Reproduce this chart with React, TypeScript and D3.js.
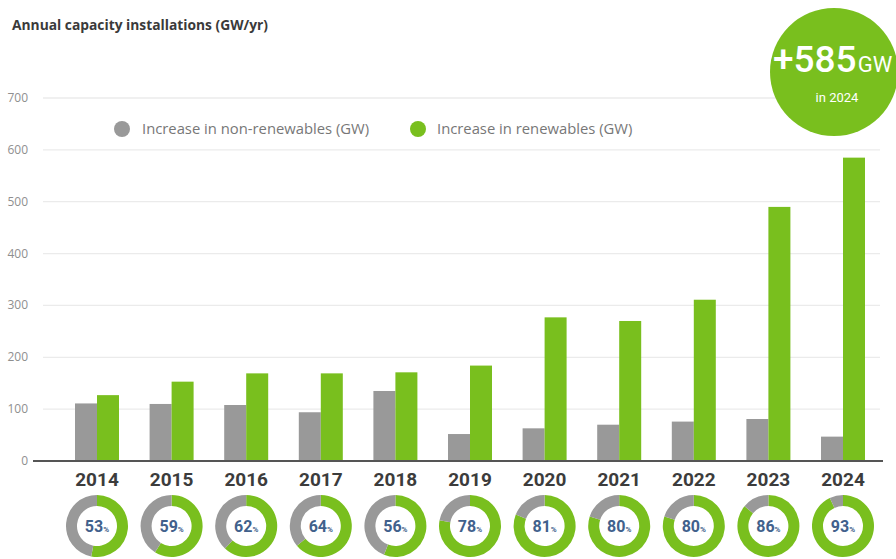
import React from "react";
import * as d3 from "d3";

const years = ["2014","2015","2016","2017","2018","2019","2020","2021","2022","2023","2024"];
const nonRenewables = [111, 110, 108, 94, 135, 52, 63, 70, 76, 81, 47];
const renewables = [127, 153, 169, 169, 171, 184, 277, 270, 311, 490, 585];
const renewableShare = [53, 59, 62, 64, 56, 78, 81, 80, 80, 86, 93];
const yTicks = [0, 100, 200, 300, 400, 500, 600, 700];

const W = 896, H = 559;
const GREEN = "#79bf1e";
const GRAY = "#999999";
const SANS = "'Open Sans', Arial, sans-serif";

export default function App() {
  const x = d3.scalePoint<string>().domain(years).range([97, 843]);
  const y = d3.scaleLinear().domain([0, 700]).range([461, 98]);
  const bw = 22;
  const arc = d3.arc<any>().innerRadius(20).outerRadius(31);
  const donutY = 526;

  return (
    <svg width={W} height={H} style={{ position: "absolute", left: 0, top: 0, fontFamily: "Roboto, Arial, sans-serif" }}>
      <rect width={W} height={H} fill="#fff" />
      <text x={12} y={30} fontSize={13.8} fontWeight={700} fill="#3a3a3a" fontFamily={SANS}>Annual capacity installations (GW/yr)</text>

      {yTicks.map(t => (
        <g key={t}>
          {t > 0 && <line x1={43} x2={880} y1={y(t)} y2={y(t)} stroke="#ebebeb" strokeWidth={1.3} />}
          <text x={28} y={y(t) + 4} fontSize={12} fill="#8f8f8f" textAnchor="end" fontFamily={SANS}>{t}</text>
        </g>
      ))}

      <circle cx={122} cy={129} r={8} fill={GRAY} />
      <text x={142} y={134} fontSize={14.8} fill="#777" fontFamily={SANS}>Increase in non-renewables (GW)</text>
      <circle cx={418} cy={129} r={8} fill={GREEN} />
      <text x={437} y={134} fontSize={14.8} fill="#777" fontFamily={SANS}>Increase in renewables (GW)</text>

      {years.map((yr, i) => {
        const cx = x(yr)!;
        return (
          <g key={yr}>
            <rect x={cx - bw} y={y(nonRenewables[i])} width={bw} height={y(0) - y(nonRenewables[i])} fill={GRAY} />
            <rect x={cx} y={y(renewables[i])} width={bw} height={y(0) - y(renewables[i])} fill={GREEN} />
          </g>
        );
      })}

      <line x1={33} x2={883} y1={y(0)} y2={y(0)} stroke="#555" strokeWidth={2} />

      {years.map((yr, i) => {
        const cx = x(yr)!;
        const a = (renewableShare[i] / 100) * 2 * Math.PI;
        return (
          <g key={"l" + yr}>
            <text x={cx} y={486} fontSize={19} fontWeight={700} fill="#3c3c3c" textAnchor="middle">{yr}</text>
            <g transform={`translate(${cx},${donutY})`}>
              <path d={arc({ startAngle: 0, endAngle: a }) as string} fill={GREEN} />
              <path d={arc({ startAngle: a, endAngle: 2 * Math.PI }) as string} fill={GRAY} />
              <text x={0} y={6} textAnchor="middle" fill="#41618c" fontWeight={700}>
                <tspan fontSize={16}>{renewableShare[i]}</tspan>
                <tspan fontSize={8}>%</tspan>
              </text>
            </g>
          </g>
        );
      })}

      <circle cx={834} cy={72} r={64} fill={GREEN} />
      <text x={773} y={72} textAnchor="start" fill="#fff">
        <tspan fontSize={37} fontWeight={500}>+585</tspan>
        <tspan fontSize={22} dx={1}>GW</tspan>
      </text>
      <text x={837} y={102} textAnchor="middle" fill="#fff" fontSize={13}>in 2024</text>
    </svg>
  );
}
